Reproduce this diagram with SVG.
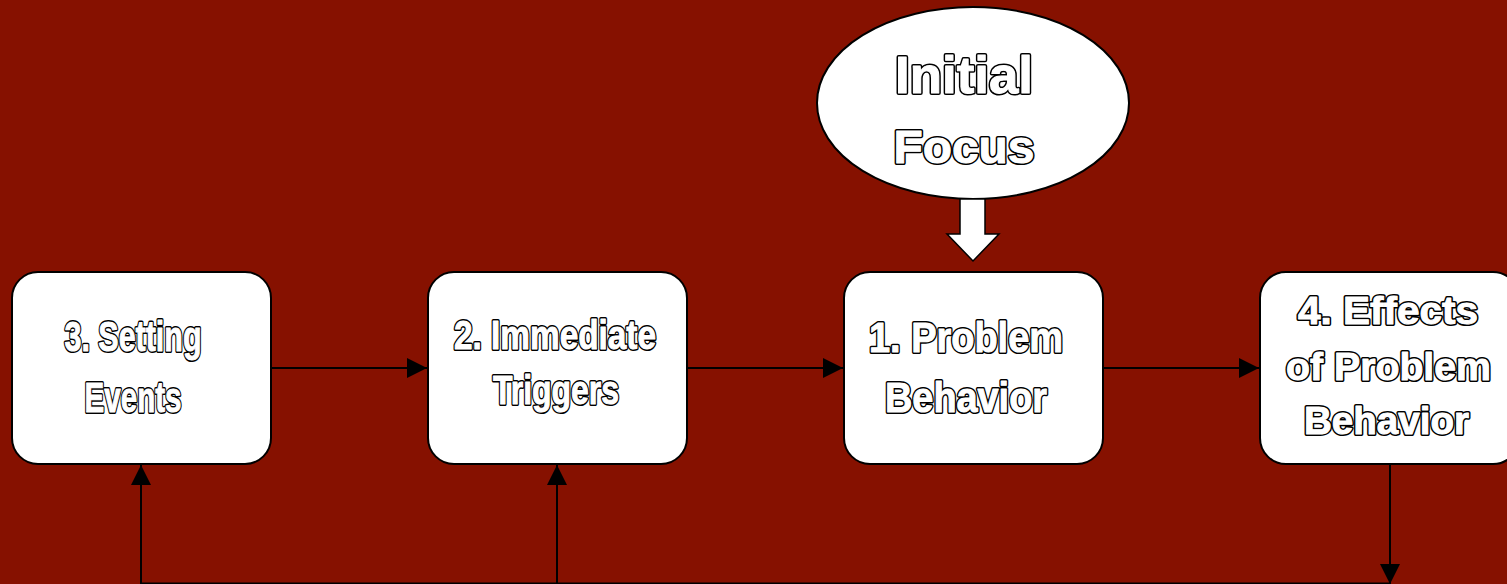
<svg xmlns="http://www.w3.org/2000/svg" width="1507" height="584" viewBox="0 0 1507 584">
<defs>
<style>
.bg{fill:#861100}
.box{fill:#ffffff;stroke:#000000;stroke-width:2}
.lbl{font-family:"Liberation Sans",Arial,sans-serif;font-weight:bold;text-anchor:middle}
.ol{fill:#000000;stroke:#000000;stroke-width:4;stroke-linejoin:round}
.fl{fill:#ffffff;stroke:#ffffff;stroke-width:1;stroke-linejoin:round}
.conn{fill:none;stroke:#000000;stroke-width:2}
</style>
<marker id="ah" markerUnits="userSpaceOnUse" markerWidth="20" markerHeight="20" refX="20" refY="10" orient="auto">
<path d="M0,0 L20,10 L0,20 Z" fill="#000000"/>
</marker>
</defs>
<rect class="bg" x="0" y="0" width="1507" height="584"/>
<g id="connectors">
<line class="conn" x1="272" y1="368" x2="427" y2="368" marker-end="url(#ah)"/>
<line class="conn" x1="688" y1="368" x2="843" y2="368" marker-end="url(#ah)"/>
<line class="conn" x1="1103" y1="368" x2="1259" y2="368" marker-end="url(#ah)"/>
<line class="conn" x1="141" y1="584" x2="141" y2="465" marker-end="url(#ah)"/>
<line class="conn" x1="557" y1="584" x2="557" y2="465" marker-end="url(#ah)"/>
<line class="conn" x1="1390" y1="465" x2="1390" y2="584" marker-end="url(#ah)"/>
<line class="conn" x1="141" y1="583.5" x2="1390" y2="583.5"/>
</g>
<g id="initial-focus">
<ellipse class="box" cx="973" cy="103" rx="156" ry="96"/>
<text class="lbl ol" x="964" y="93" font-size="52" textLength="138" lengthAdjust="spacingAndGlyphs">Initial</text>
<text class="lbl fl" x="964" y="93" font-size="52" textLength="138" lengthAdjust="spacingAndGlyphs">Initial</text>
<text class="lbl ol" x="964" y="163" font-size="46" textLength="141" lengthAdjust="spacingAndGlyphs">Focus</text>
<text class="lbl fl" x="964" y="163" font-size="46" textLength="141" lengthAdjust="spacingAndGlyphs">Focus</text>
</g>
<g id="focus-arrow">
<path d="M960,199 L985,199 L985,234 L999,234 L973,261 L947,234 L960,234 Z" fill="#ffffff" stroke="#000000" stroke-width="1.5"/>
</g>
<g id="setting-events">
<rect class="box" x="12" y="272" width="259" height="192" rx="26"/>
<text class="lbl ol" x="133" y="351" font-size="43" textLength="137" lengthAdjust="spacingAndGlyphs">3. Setting</text>
<text class="lbl fl" x="133" y="351" font-size="43" textLength="137" lengthAdjust="spacingAndGlyphs">3. Setting</text>
<text class="lbl ol" x="133" y="412" font-size="43" textLength="97" lengthAdjust="spacingAndGlyphs">Events</text>
<text class="lbl fl" x="133" y="412" font-size="43" textLength="97" lengthAdjust="spacingAndGlyphs">Events</text>
</g>
<g id="immediate-triggers">
<rect class="box" x="428" y="272" width="259" height="192" rx="26"/>
<text class="lbl ol" x="555" y="349" font-size="41" textLength="202" lengthAdjust="spacingAndGlyphs">2. Immediate</text>
<text class="lbl fl" x="555" y="349" font-size="41" textLength="202" lengthAdjust="spacingAndGlyphs">2. Immediate</text>
<text class="lbl ol" x="556" y="404" font-size="41" textLength="126" lengthAdjust="spacingAndGlyphs">Triggers</text>
<text class="lbl fl" x="556" y="404" font-size="41" textLength="126" lengthAdjust="spacingAndGlyphs">Triggers</text>
</g>
<g id="problem-behavior">
<rect class="box" x="844" y="272" width="259" height="192" rx="26"/>
<text class="lbl ol" x="966" y="352" font-size="42" textLength="194" lengthAdjust="spacingAndGlyphs">1. Problem</text>
<text class="lbl fl" x="966" y="352" font-size="42" textLength="194" lengthAdjust="spacingAndGlyphs">1. Problem</text>
<text class="lbl ol" x="966" y="412" font-size="42" textLength="162" lengthAdjust="spacingAndGlyphs">Behavior</text>
<text class="lbl fl" x="966" y="412" font-size="42" textLength="162" lengthAdjust="spacingAndGlyphs">Behavior</text>
</g>
<g id="effects">
<rect class="box" x="1260" y="272" width="259" height="192" rx="26"/>
<text class="lbl ol" x="1388" y="324" font-size="38" textLength="180" lengthAdjust="spacingAndGlyphs">4. Effects</text>
<text class="lbl fl" x="1388" y="324" font-size="38" textLength="180" lengthAdjust="spacingAndGlyphs">4. Effects</text>
<text class="lbl ol" x="1388.5" y="380" font-size="38" textLength="205" lengthAdjust="spacingAndGlyphs">of Problem</text>
<text class="lbl fl" x="1388.5" y="380" font-size="38" textLength="205" lengthAdjust="spacingAndGlyphs">of Problem</text>
<text class="lbl ol" x="1386.5" y="434" font-size="38" textLength="165" lengthAdjust="spacingAndGlyphs">Behavior</text>
<text class="lbl fl" x="1386.5" y="434" font-size="38" textLength="165" lengthAdjust="spacingAndGlyphs">Behavior</text>
</g>
</svg>
